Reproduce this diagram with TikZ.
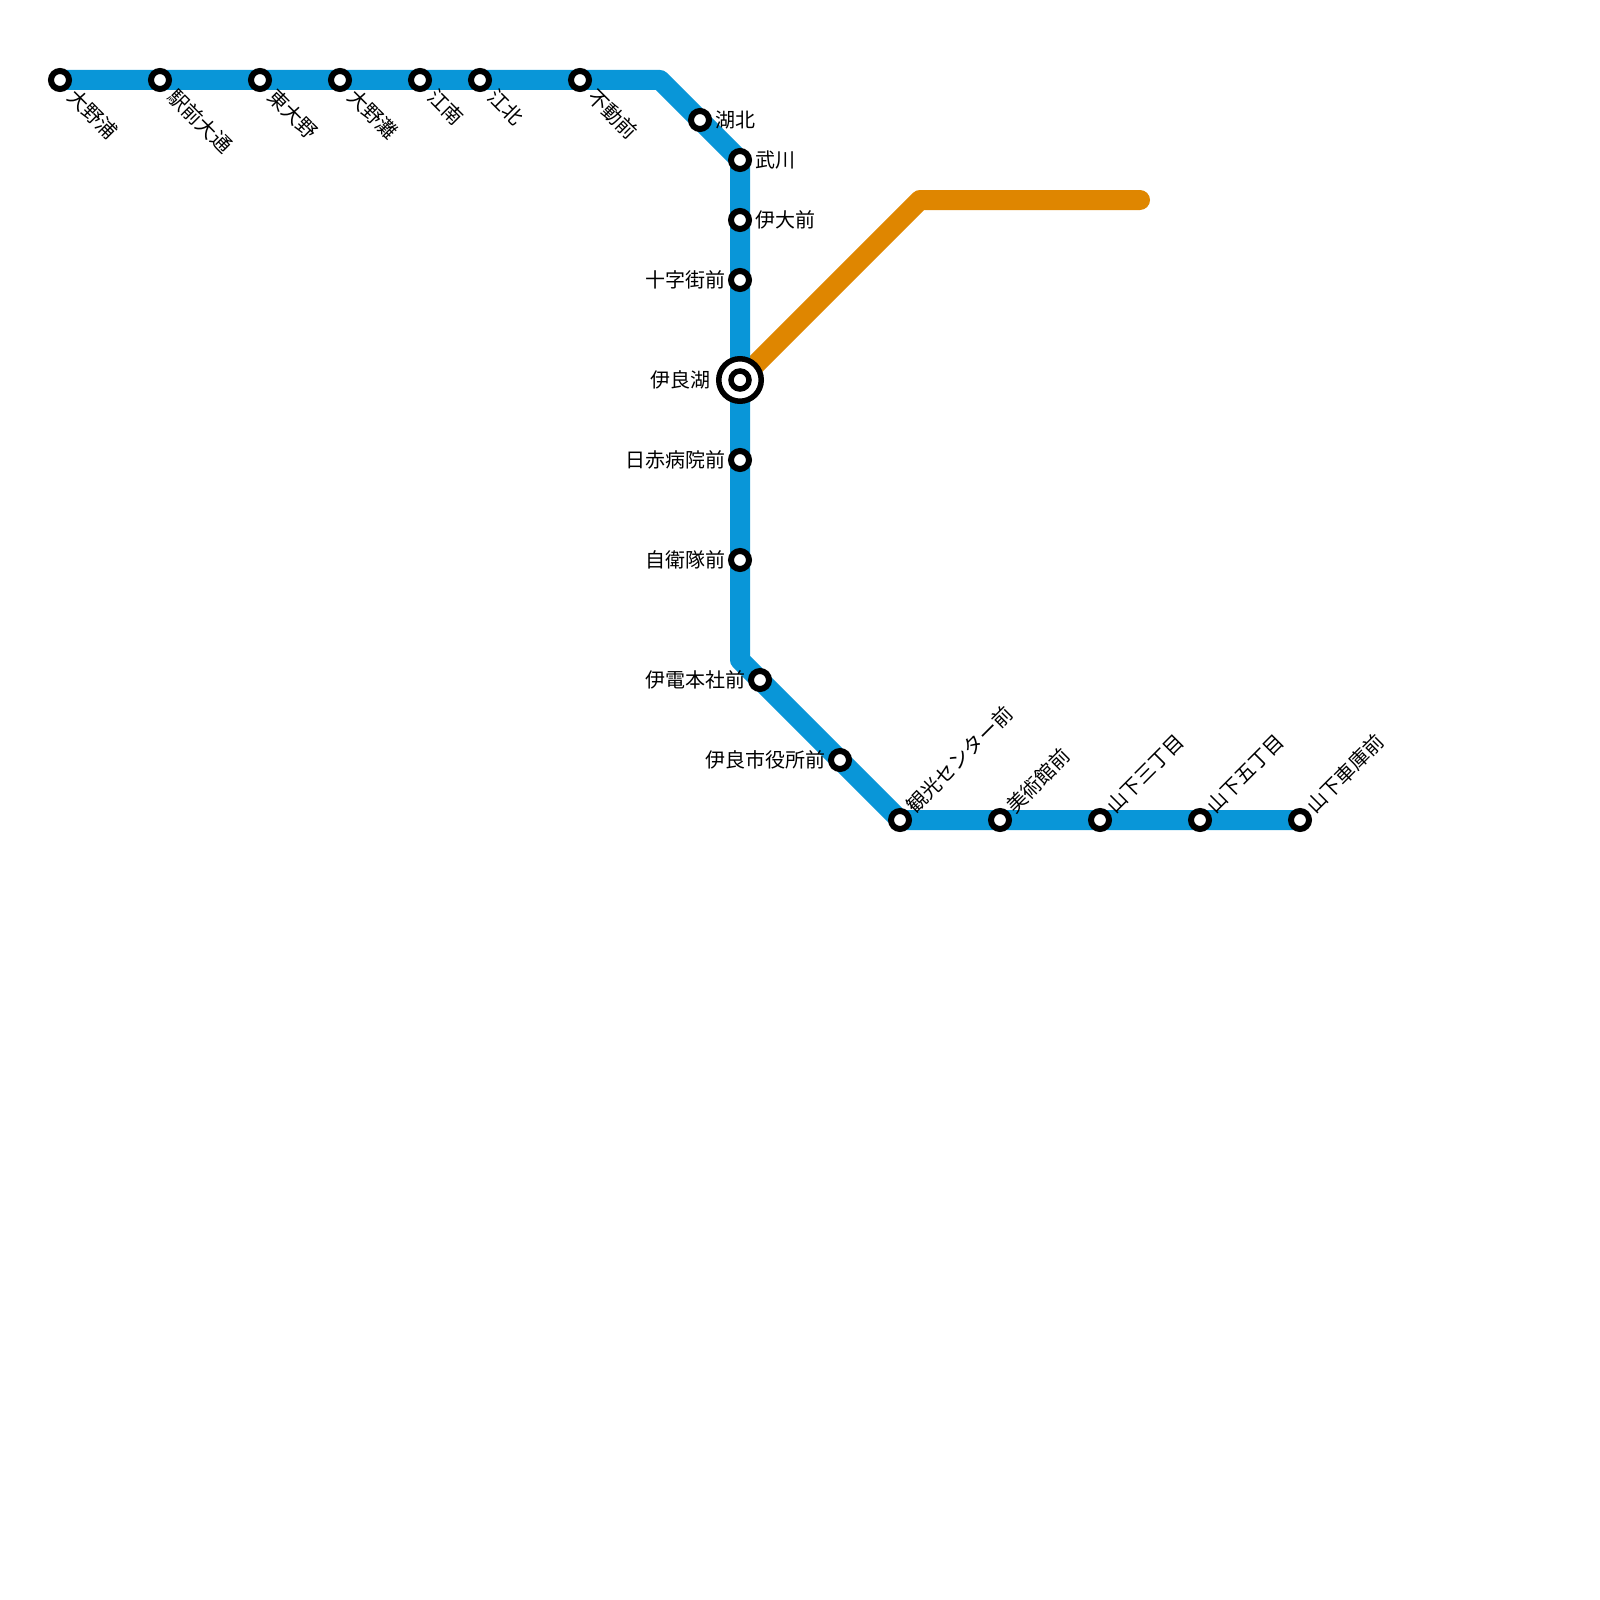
\documentclass[tikz,border=0pt]{standalone}
\usepackage{fontspec}
\setmainfont{Noto Sans CJK JP}
\definecolor{lineblue}{RGB}{9,150,216}
\definecolor{lineorange}{RGB}{223,134,0}
\pgfdeclarelayer{routes}
\pgfsetlayers{routes,main}
\tikzset{
  stn/.style={circle,draw=black,fill=white,line width=6pt,minimum size=18pt,inner sep=0pt,outer sep=0pt},
  hubin/.style={stn,line width=5.5pt,minimum size=18pt},
  hubout/.style={circle,draw=black,fill=white,line width=5.5pt,minimum size=42.5pt,inner sep=0pt,outer sep=0pt},
  route/.style={line width=20pt,line join=round},
  lbl/.style={font=\fontsize{20pt}{21pt}\selectfont,inner sep=0pt,outer sep=0pt,text=black},
  lse/.style={lbl,anchor=west,rotate=-45},
  lne/.style={lbl,anchor=west,rotate=45},
  lr/.style={lbl,anchor=west},
  ll/.style={lbl,anchor=east}
}
\begin{document}
\begin{tikzpicture}[x=1pt,y=-1pt]
\useasboundingbox (0,0) rectangle (1600,1600);
\coordinate (b1) at (660,80);
\coordinate (b2) at (740,660);
\coordinate (o1) at (920,200);
\coordinate (o2) at (1140,200);
\node[stn] (s1) at (60,80) {};
\node[stn] (s2) at (160,80) {};
\node[stn] (s3) at (260,80) {};
\node[stn] (s4) at (340,80) {};
\node[stn] (s5) at (420,80) {};
\node[stn] (s6) at (480,80) {};
\node[stn] (s7) at (580,80) {};
\node[stn] (s8) at (700,120) {};
\node[stn] (s9) at (740,160) {};
\node[stn] (s10) at (740,220) {};
\node[stn] (s11) at (740,280) {};
\node[hubout] (h) at (740,380) {};
\node[hubin] (hi) at (740,380) {};
\node[stn] (s13) at (740,460) {};
\node[stn] (s14) at (740,560) {};
\node[stn] (s15) at (760,680) {};
\node[stn] (s16) at (840,760) {};
\node[stn] (s17) at (900,820) {};
\node[stn] (s18) at (1000,820) {};
\node[stn] (s19) at (1100,820) {};
\node[stn] (s20) at (1200,820) {};
\node[stn] (s21) at (1300,820) {};
\begin{pgfonlayer}{routes}
\draw[route,lineorange,line cap=round] (h.center) -- (o1) -- (o2);
\draw[route,lineblue] (s1.center) -- (b1) -- (s9.center) -- (b2) -- (s17.center) -- (s21.center);
\end{pgfonlayer}
\node[lse] (t1) at (72,93) {大野浦};
\node[lse] (t2) at (172,93) {駅前大通};
\node[lse] (t3) at (272,93) {東大野};
\node[lse] (t4) at (352,93) {大野灘};
\node[lse] (t5) at (432,93) {江南};
\node[lse] (t6) at (492,93) {江北};
\node[lse] (t7) at (592,93) {不動前};
\node[lr] (t8) at (715,120) {湖北};
\node[lr] (t9) at (755,160) {武川};
\node[lr] (t10) at (755,220) {伊大前};
\node[ll] (t11) at (725,280) {十字街前};
\node[ll] (t12) at (710,380) {伊良湖};
\node[ll] (t13) at (725,460) {日赤病院前};
\node[ll] (t14) at (725,560) {自衛隊前};
\node[ll] (t15) at (745,680) {伊電本社前};
\node[ll] (t16) at (825,760) {伊良市役所前};
\node[lne] (t17) at (910,809) {観光センター前};
\node[lne] (t18) at (1010,809) {美術館前};
\node[lne] (t19) at (1110,809) {山下三丁目};
\node[lne] (t20) at (1210,809) {山下五丁目};
\node[lne] (t21) at (1310,809) {山下車庫前};
\end{tikzpicture}
\end{document}
